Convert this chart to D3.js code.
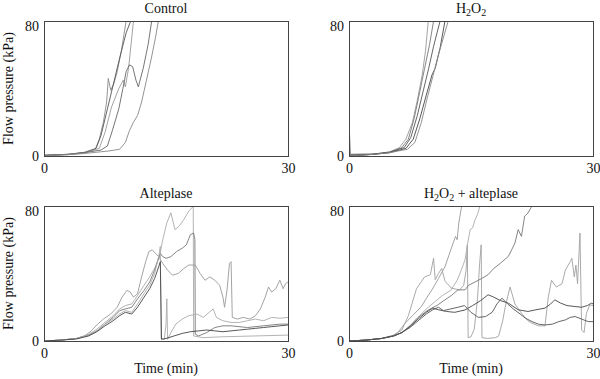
<!DOCTYPE html>
<html><head><meta charset="utf-8">
<script src="https://cdn.jsdelivr.net/npm/d3@7"></script>
<style>
body{margin:0;background:#fff;}
svg{display:block;font-family:"Liberation Serif","Times New Roman",serif;}
</style></head>
<body><svg id="c" width="600" height="379"></svg>
<script>
// ---- data (minutes, kPa) ----
const timeDomain = [0, 30];
const pressureDomain = [0, 80];
const xTickValues = [0, 30];
const yTickValues = [0, 80];
const panelTitles = ["Control", "H2O2", "Alteplase", "H2O2 + alteplase"];
const yLabel = "Flow pressure (kPa)";
const xLabel = "Time (min)";

const controlRuns = [
  [[0,0.3],[3,1],[5,2],[6.3,4],[6.8,10],[7.3,20],[7.7,32],[7.9,46],[8.2,39],[8.6,43],[9,50],[9.5,62],[10.1,80],[10.3,84]],
  [[0,0.5],[3,1],[5,2.2],[6.4,4.5],[7,12],[7.8,28],[8.6,44],[9.3,58],[10.1,73],[10.66,80],[10.8,84]],
  [[0,0.2],[3,0.8],[5,1.8],[6.8,4.5],[7.5,14],[8.3,29],[9.2,40],[9.75,45],[10,41],[10.4,52],[11,80],[11.2,84]],
  [[0,0.4],[3,1],[5,2],[7,3.5],[7.8,6],[8.4,15],[9.2,28],[9.7,40],[10.1,50],[10.5,54],[10.9,53],[11.3,45],[11.6,41],[12.2,52],[12.8,66],[13.24,80],[13.4,84]],
  [[0,0],[3,0.8],[5,1.5],[8,3],[9.3,4],[10,8],[10.5,15],[11,20],[11.5,24],[12,32],[12.6,45],[13.2,58],[13.7,70],[14.06,80],[14.2,84]]
];
const h2o2Runs = [
  [[0,0],[3,1],[5,2.5],[6.2,5],[7,10],[7.8,20],[8.4,33],[9,48],[9.4,62],[9.75,80],[9.9,84]],
  [[0,0.5],[3,1],[5,2],[6.5,5],[7.3,10],[8,22],[8.7,38],[9.3,52],[9.9,66],[10.4,80],[10.5,84]],
  [[0,22],[0.15,1],[3,1.2],[5,2.3],[6.8,5],[7.6,11],[8.4,24],[9.1,38],[9.8,52],[10.4,65],[11.2,80],[11.3,84]],
  [[0,0],[3,1],[5,2],[7,4.5],[7.9,10],[8.7,22],[9.5,36],[10.2,48],[10.6,52],[11.2,64],[11.8,80],[11.9,84]],
  [[0,0],[3,1],[5,2],[7.2,4],[8.1,8],[8.9,20],[9.6,34],[10.3,47],[11,60],[11.6,70],[12.2,80],[12.3,84]]
];
const alteplaseRuns = [
  [[0,0],[2,0.5],[4,1.5],[5.5,4],[6.5,7],[7.5,11],[8.5,15],[9.3,19],[10,21],[10.8,22],[11.5,27],[12.3,33],[13,38],[13.7,44],[14.2,50],[14.6,60],[15.1,70],[15.6,76],[16.1,66],[16.6,68],[17.2,72],[17.8,77],[18.2,79],[18.35,81],[18.4,3],[19.5,2],[22,2.5],[26,3],[30,3.5]],
  [[0,0],[2,0.5],[4,1.5],[5.5,3.5],[6.5,6],[7.5,10],[8.5,14],[9.3,18],[10,19],[10.8,20],[11.5,25],[12.3,30],[13,35],[13.6,42],[14,48],[14.3,52],[14.6,50],[15,49],[15.6,50],[16.3,53],[17,55],[17.5,57],[18,63],[18.4,64],[18.55,60],[18.6,4],[19,3],[20,5],[21,8],[22,9],[23,9],[25,8],[27,9],[29,10],[30,10]],
  [[0,0],[2,0.5],[4,1.5],[5,3],[5.8,6],[6.6,10],[7.3,13],[8.2,16],[9,20],[9.6,26],[10.2,30],[10.6,29],[11,26],[11.5,28],[12,38],[12.5,47],[12.9,53],[13.3,54],[13.7,52],[14.1,50],[14.6,46],[15.2,42],[15.8,39],[16.5,40],[17.2,43],[17.8,45],[18.6,45],[19.2,40],[19.8,36],[20.4,38],[21,36],[21.6,33],[22,26],[22.2,20],[22.5,30],[22.8,46],[23,47],[23.15,14],[23.8,13],[24.5,14],[25.3,13],[26,15],[26.6,19],[27.2,26],[27.6,32],[28,29],[28.5,31],[29,36],[29.4,31],[29.7,34],[30,35]],
  [[0,0],[2,0.5],[4,1.5],[5.5,3.5],[6.5,6],[7.5,10],[8.5,13],[9.3,16],[10,18],[10.8,17],[11.5,22],[12.3,28],[13,33],[13.6,40],[14.1,50],[14.3,56],[14.4,1.5],[14.8,1],[15,10],[15.1,25],[15.2,1],[15.6,5],[16.2,10],[17,13],[17.8,15],[18.8,16],[19.6,14],[20.3,17],[20.8,19],[21.2,14],[22,12],[23,11],[24,11],[25,12],[26,13],[27,12],[28,14],[29,13.5],[30,14]],
  [[0,0],[2,0.5],[4,1.2],[5.5,3],[6.5,5.5],[7.5,9],[8.5,12],[9.3,15],[10,17],[10.8,16],[11.5,20],[12.3,26],[13,31],[13.6,37],[14.1,44],[14.3,47],[14.45,1],[15,1.5],[16,3],[17,4.5],[18,5.5],[19,6],[20,6.5],[21,6],[22,5.5],[23,6],[24,6.5],[25,7],[26,7.5],[27,8],[28,8.5],[29,9],[30,9.5]]
];
const comboRuns = [
  [[0,0],[2,0.5],[4,1.5],[5.3,3],[6,5],[6.9,10.5],[7.8,15],[8.9,20.4],[9.6,26],[10.2,30.3],[11,37],[11.8,44],[12.3,51],[12.8,58],[13.1,62],[13.3,60],[13.5,70],[13.85,80],[14,84]],
  [[0,0],[2,0.5],[4,1.5],[5.5,3.5],[6.5,6.5],[7.3,15],[8.3,31],[9.3,38],[10,39.3],[10.4,49],[10.6,36.3],[11,40],[11.4,43],[11.8,35.5],[12.6,31.3],[13.6,30.3],[14.1,33],[14.4,42],[14.55,57],[14.65,2],[15,2.5],[15.4,7],[15.8,25],[16.05,45],[16.25,57],[16.35,2],[17,1.5],[18,2],[18.4,3],[18.9,12],[19.2,20],[19.8,32],[20.4,22],[21.2,16.5],[22,12],[22.5,10.5],[23.3,9],[24.1,9],[24.5,26],[24.9,36],[25.5,32],[26.2,34],[26.6,42],[27.2,47],[27.4,49],[27.7,38],[27.9,45],[28.1,34],[28.4,64],[28.6,6.5],[28.9,5],[29.2,16.5],[29.6,21.4],[30,21]],
  [[0,0],[2,0.5],[4,1.5],[5.5,3],[6.5,5],[7.5,9],[8.5,14],[9.5,19],[10.5,23],[11.5,27],[12.5,30],[13.3,36],[13.8,42],[14.26,48],[14.6,58],[14.9,66],[15.2,67],[15.5,72],[15.8,75],[16.1,80],[16.3,84]],
  [[0,0],[2,0.5],[4,1.5],[5.5,3],[6.5,5],[7.5,9],[8.5,14],[9.75,18.4],[10.8,21],[11.8,24.4],[12.6,27],[13.4,30.3],[14.26,30.3],[14.7,33],[15.5,35],[16.3,37],[17.1,39.3],[17.8,43],[18.6,46],[19.6,50.2],[20.1,55],[20.4,58],[20.8,66],[21.2,62],[21.6,74],[22,75.8],[22.5,80],[22.7,84]],
  [[0,0],[2,0.5],[4,1.5],[5.5,3],[6.5,5],[7.5,8.5],[8.5,13],[9.5,17],[10.3,19.5],[11,18.5],[12,17.5],[13,17],[14.26,18.4],[15.2,21],[16.2,24],[17.1,27.4],[17.8,26],[18.6,24],[19.6,22.4],[20.8,18.5],[22,17.5],[23,18.5],[24.1,19.5],[24.8,22],[25.3,24.4],[26,22.5],[26.8,21],[27.8,20.4],[28.6,20],[29.3,21],[29.8,22.4],[30,22]],
  [[0,0],[2,0.5],[4,1.5],[5.5,3],[6.5,5],[7.5,8],[8.5,12],[9.5,16],[10.3,18.5],[11,20],[11.6,18],[12.5,19],[13.4,20],[14.2,21],[15,17],[15.9,14],[16.8,14.5],[17.6,17],[18.2,22],[18.8,25.4],[19.5,22],[20.2,19],[20.9,16.5],[21.7,13.5],[22.5,11.5],[23.3,10],[24.1,9.5],[25,10],[25.8,11.5],[26.6,12.5],[27.2,14],[27.8,14.5],[28.6,13],[29.4,11.5],[30,11.5]]
];
const allRuns = [controlRuns, h2o2Runs, alteplaseRuns, comboRuns];

// ---- styles & layout ----
const runColors = [
  ["#8a8a8a","#555","#999","#666","#888"],
  ["#999","#777","#555","#444","#888"],
  ["#aaa","#777","#999","#aaa","#444"],
  ["#999","#a0a0a0","#aaa","#777","#444","#555"]
];
const panelBoxes = [
  {x:44, y:21, w:244, h:135, left:true, bottom:false},
  {x:349, y:21, w:244, h:135, left:false, bottom:false},
  {x:44, y:206, w:244, h:135, left:true, bottom:true},
  {x:349, y:206, w:244, h:135, left:false, bottom:true}
];
const serif = "Liberation Serif, Times New Roman, serif";

const svg = d3.select("#c");
const defs = svg.append("defs");

function addTitle(g, txt, cx, y) {
  const t = g.append("text").attr("x", cx).attr("y", y).attr("text-anchor","middle")
    .attr("font-size", 14).attr("font-family", serif).attr("fill", "#111");
  const m = txt.match(/^H2O2(.*)$/);
  if (m) {
    t.append("tspan").text("H");
    t.append("tspan").attr("font-size",10).attr("dy",3).text("2");
    t.append("tspan").attr("dy",-3).text("O");
    t.append("tspan").attr("font-size",10).attr("dy",3).text("2");
    if (m[1]) t.append("tspan").attr("dy",-3).text(m[1]);
  } else {
    t.text(txt);
  }
}

panelBoxes.forEach((b, i) => {
  const x = d3.scaleLinear().domain(timeDomain).range([0, b.w]);
  const y = d3.scaleLinear().domain(pressureDomain).range([b.h, 0]);
  const g = svg.append("g").attr("transform", `translate(${b.x},${b.y})`);

  defs.append("clipPath").attr("id", "clip"+i)
    .append("rect").attr("x",0).attr("y",0).attr("width",b.w).attr("height",b.h);

  const line = d3.line().x(d => x(d[0])).y(d => y(d[1]));
  g.append("g").attr("clip-path", `url(#clip${i})`)
    .selectAll("path").data(allRuns[i]).join("path")
    .attr("d", line)
    .attr("fill","none")
    .attr("stroke", (d, j) => runColors[i][j % runColors[i].length])
    .attr("stroke-width", 0.9)
    .attr("stroke-linejoin","round");

  g.append("rect").attr("x",0.5).attr("y",0.5).attr("width",b.w).attr("height",b.h)
    .attr("fill","none").attr("stroke","#444").attr("stroke-width",1);

  const ya = g.append("g").call(d3.axisLeft(y).tickValues(yTickValues).tickSize(0).tickPadding(5).tickFormat(d3.format("d")))
    .attr("font-family", serif).attr("font-size", 14);
  ya.select(".domain").remove();
  ya.selectAll("text").attr("fill","#111")
    .attr("dy", d => d === 80 ? "0.68em" : "0.32em");

  const xa = g.append("g").attr("transform", `translate(0,${b.h})`)
    .call(d3.axisBottom(x).tickValues(xTickValues).tickSize(0).tickPadding(7).tickFormat(d3.format("d")))
    .attr("font-family", serif).attr("font-size", 14);
  xa.select(".domain").remove();
  xa.selectAll("text").attr("fill","#111");

  addTitle(g, panelTitles[i], b.w/2, -8);

  if (b.left) {
    g.append("text").attr("transform", `translate(${-31},${b.h/2}) rotate(-90)`)
      .attr("text-anchor","middle").attr("font-size",14).attr("font-family", serif).attr("fill","#111").text(yLabel);
  }
  if (b.bottom) {
    g.append("text").attr("x", b.w/2).attr("y", b.h + 32).attr("text-anchor","middle")
      .attr("font-size",14).attr("font-family", serif).attr("fill","#111").text(xLabel);
  }
});
</script></body></html>
